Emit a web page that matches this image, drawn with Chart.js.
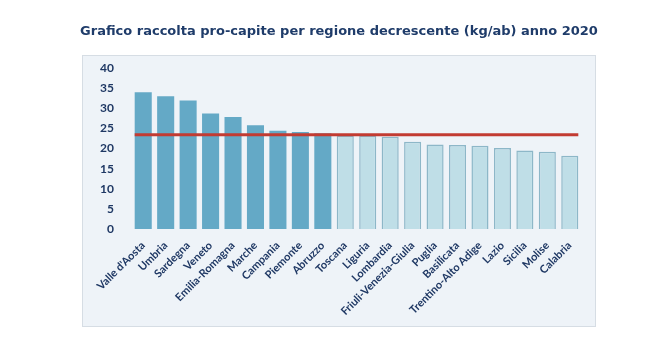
<!DOCTYPE html>
<html>
<head>
  <meta name="viewport" content="width=device-width, initial-scale=1.0">
  <title>Raccolta pro-capite per regione</title>
  <script src="https://cdn.jsdelivr.net/npm/chart.js"></script>
  <style>
    body {
      margin: 0;
      padding: 0;
      background: #ffffff;
    }
    #wrap {
      position: relative;
      width: 669px;
      height: 357px;
    }
    #titolo {
      position: absolute;
      left: 39px;
      width: 600px;
      top: 23px;
      line-height: 16px;
      text-align: center;
      font-family: 'DejaVu Sans', sans-serif;
      font-weight: bold;
      font-size: 13px;
      color: #1f3c6a;
    }
  </style>
</head>
<body>
  <div id="wrap">
    <canvas id="myChart" width="669" height="357"></canvas>
    <div id="titolo">Grafico raccolta pro-capite per regione decrescente (kg/ab) anno 2020</div>
  </div>

  <script>
    const regioni = ["Valle d'Aosta", "Umbria", "Sardegna", "Veneto", "Emilia-Romagna", "Marche",
      "Campania", "Piemonte", "Abruzzo", "Toscana", "Liguria", "Lombardia", "Friuli-Venezia-Giulia",
      "Puglia", "Basilicata", "Trentino-Alto Adige", "Lazio", "Sicilia", "Molise", "Calabria"];
    const kgPerAb = [34.0, 33.0, 31.9, 28.7, 27.8, 25.8, 24.4, 24.1, 23.8, 23.2,
      23.2, 22.9, 21.7, 21.0, 20.9, 20.7, 20.1, 19.5, 19.2, 18.2];
    const mediaItalia = 23.4;
    const yTicks = [0, 5, 10, 15, 20, 25, 30, 35, 40];

    const dark = '#64a9c6';
    const light = '#bfdee7';

    // sfondo del riquadro e linea della media
    const boxPlugin = {
      id: 'box',
      beforeDraw(chart) {
        const c = chart.ctx;
        c.save();
        c.fillStyle = '#eef3f8';
        c.fillRect(82, 55, 513, 271);
        c.strokeStyle = '#d6dde4';
        c.lineWidth = 1;
        c.strokeRect(82.5, 55.5, 513, 271);
        c.restore();
      },
      afterDatasetsDraw(chart) {
        const c = chart.ctx;
        const y = chart.scales.y.getPixelForValue(mediaItalia);
        const x = chart.scales.x;
        const half = (x.getPixelForValue(1) - x.getPixelForValue(0)) * 0.38;
        c.save();
        c.strokeStyle = '#c23b32';
        c.lineWidth = 3;
        c.beginPath();
        c.moveTo(x.getPixelForValue(0) - half, y);
        c.lineTo(x.getPixelForValue(regioni.length - 1) + half, y);
        c.stroke();
        c.restore();
      }
    };

    const ctx = document.getElementById('myChart').getContext('2d');
    const chart = new Chart(ctx, {
      type: 'bar',
      data: {
        labels: regioni,
        datasets: [{
          label: 'kg/ab',
          data: kgPerAb,
          backgroundColor: kgPerAb.map(v => v > mediaItalia ? dark : light),
          borderColor: kgPerAb.map(v => v > mediaItalia ? dark : '#8db7c8'),
          borderWidth: kgPerAb.map(v => v > mediaItalia ? 0 : 1.5),
          barPercentage: 0.76,
          categoryPercentage: 1
        }]
      },
      options: {
        responsive: false,
        animation: false,
        layout: {
          padding: { left: 97, right: 88, top: 68, bottom: 0 }
        },
        plugins: {
          legend: { display: false },
          tooltip: { enabled: false },
          title: { display: false }
        },
        scales: {
          x: {
            grid: { display: false },
            border: { display: false },
            ticks: {
              color: '#1f3864',
              font: { family: 'Lato', size: 11, weight: 'bold' },
              maxRotation: 45,
              minRotation: 45,
              autoSkip: false,
              padding: 2
            },
            afterFit(scale) { scale.height = 128; }
          },
          y: {
            min: 0,
            max: 40,
            afterBuildTicks(scale) { scale.ticks = yTicks.map(v => ({ value: v })); },
            grid: { display: false },
            border: { display: false },
            ticks: {
              color: '#1f3864',
              font: { family: 'Lato', size: 12, weight: 'bold' },
              padding: 10
            },
            afterFit(scale) { scale.width = 35; }
          }
        }
      },
      plugins: [boxPlugin]
    });
  </script>
</body>
</html>
